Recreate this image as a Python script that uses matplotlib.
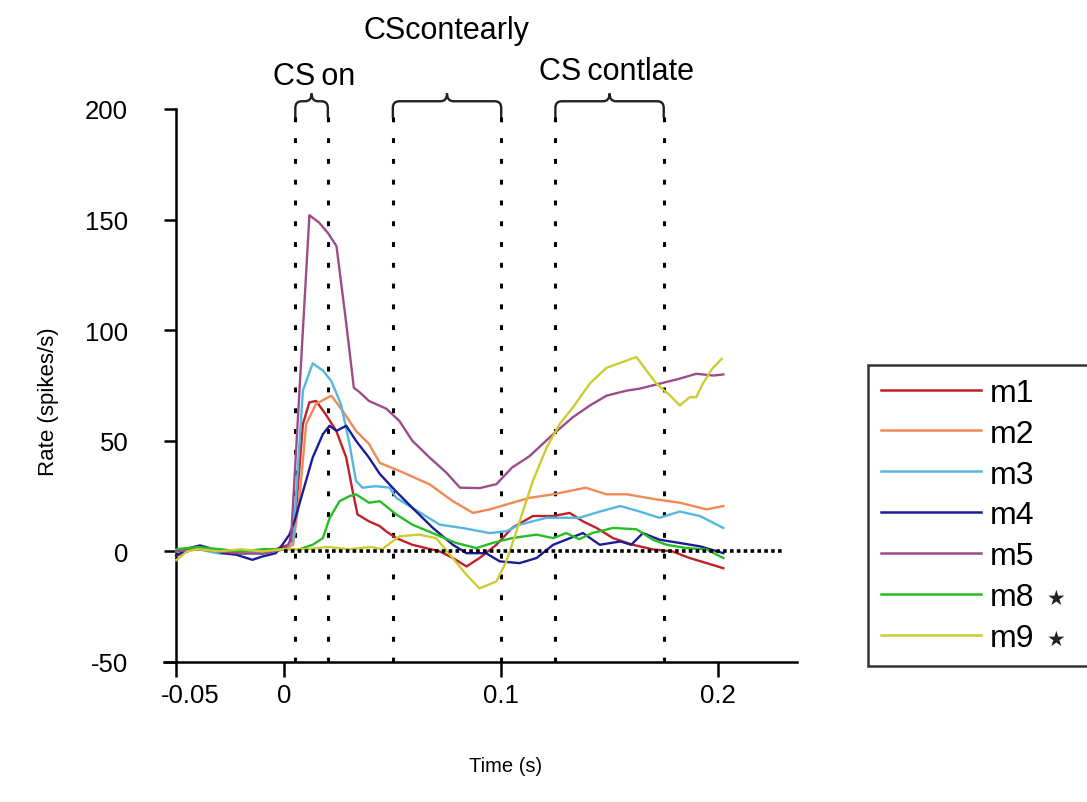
import numpy as np
import matplotlib
matplotlib.use("Agg")
import matplotlib.pyplot as plt
import matplotlib.transforms as mtransforms
from matplotlib.path import Path
from matplotlib.patches import PathPatch

plt.rcParams['font.family'] = ['Liberation Sans', 'DejaVu Sans']
plt.rcParams['axes.unicode_minus'] = False

# traces (time in s, rate in spikes/s)
m1_x = [-0.05, -0.042, -0.032, -0.022, -0.012, -0.004, 0.002, 0.005, 0.0085, 0.0115, 0.0146, 0.019,
        0.0239, 0.0285, 0.0315, 0.0337, 0.039, 0.044, 0.047, 0.0516, 0.059, 0.0716, 0.0777, 0.084,
        0.09, 0.0978, 0.105, 0.1146, 0.124, 0.1316, 0.1377, 0.144, 0.1516, 0.1607, 0.17, 0.179,
        0.187, 0.1948, 0.2025]
m1_y = [-2, 1, 1, -1, 0, 1, 3, 15, 57.6, 67.4, 68, 62, 54.5, 42.4, 27, 16.7, 13.6, 11.4, 9, 6, 3,
        0, -3, -6.8, -3, 3, 10.6, 16, 16, 17.4, 13.6, 10.6, 6, 3, 0.9, 0, -3, -5.3, -7.6]

m2_x = [-0.05, -0.04, -0.03, -0.02, -0.01, 0.0, 0.004, 0.007, 0.01, 0.0146, 0.0216, 0.0268, 0.033,
        0.039, 0.044, 0.053, 0.067, 0.0777, 0.087, 0.0947, 0.1024, 0.113, 0.124, 0.139, 0.1486,
        0.158, 0.1717, 0.1824, 0.1948, 0.2025]
m2_y = [0, 1, 0, -1, 0, 1, 3, 25, 57.6, 66.7, 70.4, 63.6, 54.5, 48.6, 40, 36.4, 30.3, 22.7, 17.4,
        19, 21.2, 24.2, 25.8, 28.8, 25.8, 25.8, 23.5, 22, 19, 20.5]

m3_x = [-0.05, -0.04, -0.03, -0.02, -0.01, 0.0, 0.004, 0.0085, 0.013, 0.0177, 0.0216, 0.026, 0.030,
        0.033, 0.036, 0.042, 0.0485, 0.0516, 0.059, 0.0716, 0.082, 0.0947, 0.1024, 0.1085, 0.121,
        0.136, 0.1455, 0.155, 0.164, 0.173, 0.1824, 0.1917, 0.2025]
m3_y = [0, 1, -1, 0, -1, 1, 5, 72.7, 85, 81.8, 77, 66.7, 48.6, 31.8, 28.8, 29.5, 28.8, 24.2, 19.7,
        12.1, 10.6, 8.3, 9.1, 12.1, 15.2, 15.2, 18, 20.5, 18, 15.2, 18, 16, 10.6]

m4_x = [-0.05, -0.044, -0.039, -0.0346, -0.0286, -0.0223, -0.0148, -0.0102, -0.004, -0.001, 0.0023,
        0.0046, 0.0085, 0.013, 0.0177, 0.0208, 0.024, 0.0285, 0.033, 0.039, 0.044, 0.0516, 0.059,
        0.0685, 0.0777, 0.084, 0.093, 0.0993, 0.1085, 0.1163, 0.124, 0.13, 0.1377, 0.1455, 0.155,
        0.16, 0.1654, 0.173, 0.1824, 0.1917, 0.2025]
m4_y = [-2, 1.5, 2.7, 1.5, -0.8, -1.5, -3.8, -2.3, -0.8, 3, 7.6, 13.6, 27, 42.4, 53, 56.8, 54.5,
        56.8, 50, 42.4, 35, 27, 19.7, 10.6, 3, -0.8, -0.8, -4.5, -5.3, -3, 3, 5.3, 8.3, 3, 4.5, 3,
        8.3, 5.3, 3.8, 2.3, -0.8]

m5_x = [-0.05, -0.04, -0.03, -0.02, -0.01, 0.0, 0.003, 0.0115, 0.016, 0.02, 0.024, 0.0285, 0.032,
        0.0346, 0.039, 0.047, 0.053, 0.059, 0.067, 0.0747, 0.081, 0.09, 0.0978, 0.105, 0.113, 0.124,
        0.133, 0.141, 0.1486, 0.158, 0.164, 0.173, 0.182, 0.19, 0.198, 0.2025]
m5_y = [0, 1, 0, -1, -1, 1, 5, 152, 148.6, 144, 138, 103, 74, 72, 68, 64.5, 59, 50, 42.4, 35.6,
        28.8, 28.6, 30.4, 37.9, 43, 53, 60.6, 66, 70.4, 72.7, 73.6, 75.8, 78, 80.3, 79.5, 80]

m8_x = [-0.05, -0.04, -0.03, -0.02, -0.01, 0.0, 0.007, 0.013, 0.0177, 0.0208, 0.0254, 0.03, 0.033,
        0.039, 0.044, 0.0516, 0.059, 0.07, 0.0793, 0.0885, 0.096, 0.105, 0.1163, 0.124, 0.13, 0.136,
        0.142, 0.1516, 0.1624, 0.17, 0.1763, 0.1855, 0.1948, 0.2025]
m8_y = [1, 2, 1, 0, 1, 1, 1, 3, 6, 15, 22.7, 25, 25.8, 22, 22.7, 16.7, 12.1, 7.6, 3.8, 1.5, 3.8, 6,
        7.6, 6, 8.3, 5.5, 8.3, 10.6, 10, 5.3, 3, 1.5, 0.9, -3]

m9_x = [-0.05, -0.045, -0.04, -0.03, -0.02, -0.01, 0.0, 0.01, 0.02, 0.03, 0.04, 0.045, 0.053, 0.062,
        0.07, 0.0776, 0.084, 0.09, 0.0978, 0.1024, 0.107, 0.1146, 0.121, 0.127, 0.133, 0.141, 0.1486,
        0.156, 0.1624, 0.167, 0.1717, 0.178, 0.1824, 0.187, 0.19, 0.193, 0.1977, 0.2017]
m9_y = [-4, 0, 1, 0, 1, 0, 1, 1, 2, 1, 2, 1, 6.8, 7.6, 6, -3, -10.6, -16.7, -13.6, -4.5, 9, 31.8,
        47, 57.6, 65, 76, 83, 85.6, 87.9, 81.8, 75.8, 70.4, 66, 69.7, 69.7, 75.8, 83, 87]

labels = ['m1', 'm2', 'm3', 'm4', 'm5', 'm8', 'm9']
starred = ['m8', 'm9']
colors = ['#c0202a', '#ef8a55', '#55b6e0', '#1c1c98', '#9c4c88', '#26bd26', '#cccc33']

# window borders (s) for CSon, CScontearly, CScontlate
windows = [(0.005, 0.02), (0.05, 0.1), (0.125, 0.175)]
window_names = ['CS\u2009on', 'CScontearly', 'CS\u2009contlate']

fig = plt.figure(figsize=(10.87, 8.03), dpi=100)
ax = fig.add_axes([164 / 1087, 1 - 663 / 803, (797 - 164) / 1087, (663 - 110) / 803])

series = [(m1_x, m1_y), (m2_x, m2_y), (m3_x, m3_y), (m4_x, m4_y),
          (m5_x, m5_y), (m8_x, m8_y), (m9_x, m9_y)]
handles = []
for (xs, ys), c, lab in zip(series, colors, labels):
    h, = ax.plot(xs, ys, color=c, lw=1.7, label=lab, zorder=3)
    handles.append(h)

# dotted markers
ax.plot([0, 0.23], [0, 0], color='black', lw=2.6, linestyle=(0, (1.0, 0.9)), zorder=4)
for a, b in windows:
    for xv in (a, b):
        ax.plot([xv, xv], [-50, 200], color='black', lw=2.2, linestyle=(0, (1.6, 5.2)), zorder=2)


# curly braces above the plot
def brace(ax, x0, x1, y0=196, ym=203.5, ytip=207, rx=0.003, ry=3.0):
    xm = (x0 + x1) / 2
    verts = [(x0, y0), (x0, ym - ry), (x0, ym), (x0 + rx, ym),
             (xm - rx, ym), (xm, ym), (xm, ytip),
             (xm, ym), (xm + rx, ym),
             (x1 - rx, ym), (x1, ym), (x1, ym - ry), (x1, y0)]
    codes = [Path.MOVETO, Path.LINETO, Path.CURVE3, Path.CURVE3,
             Path.LINETO, Path.CURVE3, Path.CURVE3,
             Path.CURVE3, Path.CURVE3,
             Path.LINETO, Path.CURVE3, Path.CURVE3, Path.LINETO]
    p = PathPatch(Path(verts, codes), fill=False, lw=1.7, edgecolor='#222222', clip_on=False)
    ax.add_patch(p)


for a, b in windows:
    brace(ax, a, b)

ax.text(0.0135, 215, window_names[0], ha='center', va='center', fontsize=22, clip_on=False)
ax.text(0.0746, 235.8, window_names[1], ha='center', va='center', fontsize=22, clip_on=False)
ax.text(0.153, 217, window_names[2], ha='center', va='center', fontsize=22, clip_on=False)

ax.set_xlim(-0.0556, 0.2365)
ax.set_ylim(-50, 200)
ax.spines['left'].set_position(('data', -0.05))
ax.spines['top'].set_visible(False)
ax.spines['right'].set_visible(False)
for s in ('left', 'bottom'):
    ax.spines[s].set_linewidth(1.8)

ax.set_xticks([-0.05, 0, 0.1, 0.2])
ax.set_xticklabels(['-0.05', '0', '0.1', '0.2'])
ax.set_yticks([-50, 0, 50, 100, 150, 200])
ax.tick_params(axis='x', direction='out', length=11, width=1.8, labelsize=18.5, pad=4)
ax.tick_params(axis='y', direction='out', length=8.5, width=1.8, labelsize=18.5, pad=26)
# first x label sits a little right of its tick in the original
first = ax.get_xticklabels()[0]
first.set_transform(first.get_transform() + mtransforms.ScaledTranslation(14 / 100, 0, fig.dpi_scale_trans))

ax.set_xlabel('Time (s)', fontsize=14.5)
ax.xaxis.set_label_coords(0.539, -0.170)
ax.set_ylabel('Rate (spikes/s)', fontsize=16)
ax.yaxis.set_label_coords(-0.166, 0.473)

leg = fig.legend(handles=handles, loc='upper left',
                 bbox_to_anchor=(868 / 1087, 1 - 366 / 803 - 0.01, 0.3, 0.01), mode='expand',
                 fontsize=23, handlelength=3.15, handletextpad=0.26, labelspacing=0.34,
                 borderpad=0.4, borderaxespad=0, frameon=True, fancybox=False)
leg.get_frame().set_edgecolor('black')
leg.get_frame().set_linewidth(1.8)
for lh in leg.get_lines():
    lh.set_linewidth(1.8)

# small stars after the starred legend entries
fig.canvas.draw()
inv = fig.transFigure.inverted()
for t in leg.get_texts():
    if t.get_text() in starred:
        bb = t.get_window_extent()
        x, y = inv.transform((bb.x1 + 12, (bb.y0 + bb.y1) / 2 - 1))
        fig.text(x, y, '\u2605', fontsize=15, color='#222222', ha='left', va='center',
                 family=['DejaVu Sans'], zorder=10)

fig.savefig('out.png', dpi=100)
